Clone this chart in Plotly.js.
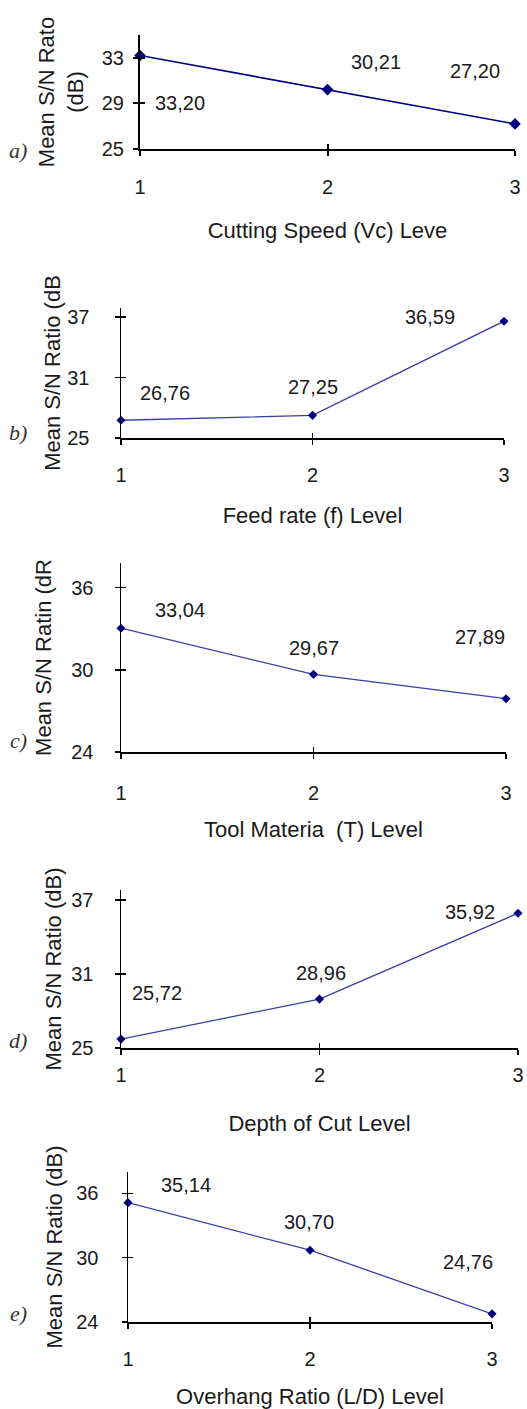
<!DOCTYPE html>
<html><head><meta charset="utf-8">
<script src="https://cdn.plot.ly/plotly-3.0.1.min.js"></script>
<style>html,body{margin:0;padding:0;background:#fff;} #chart{width:527px;height:1409px;}</style>
</head><body><div id="chart"></div>
<script>
// ---- data ----
const levels = [1, 2, 3];
const snCuttingSpeed = [33.20, 30.21, 27.20];
const snFeedRate = [26.76, 27.25, 36.59];
const snToolMaterial = [33.04, 29.67, 27.89];
const snDepthOfCut = [25.72, 28.96, 35.92];
const snOverhang = [35.14, 30.70, 24.76];
const panelTags = ['a)', 'b)', 'c)', 'd)', 'e)'];
const xTitles = ['Cutting Speed (Vc) Leve', 'Feed rate (f) Level', 'Tool Materia  (T) Level', 'Depth of Cut Level', 'Overhang Ratio (L/D) Level'];
const yTitles = ['Mean S/N Rato<br>(dB)', 'Mean S/N Ratio (dB', 'Mean S/N Ratin (dR', 'Mean S/N Ratio (dB)', 'Mean S/N Ratio (dB)'];
const yTicksA = [25, 29, 33];
const yTicksB = [25, 31, 37];
const yTicksC = [24, 30, 36];
const yTicksD = [25, 31, 37];
const yTicksE = [24, 30, 36];
const series = [snCuttingSpeed, snFeedRate, snToolMaterial, snDepthOfCut, snOverhang];
const yTicks = [yTicksA, yTicksB, yTicksC, yTicksD, yTicksE];

// ---- layout / style (pixel boxes of each panel) ----
const W = 527, H = 1409;
const boxes = [
  {x0:140, x1:515, y0:35,   y1:149,  yr:[25,35],   line:'#000080', lw:1.6, ms:9, axw:2,   ylab:5,  ytitle:12, xlab:14, xtitle:26, tag:150},
  {x0:121, x1:504, y0:308,  y1:438,  yr:[25,37.9], line:'#3c3ca8', lw:1.3, ms:7, axw:1.5, ylab:21, ytitle:0,  xlab:13, xtitle:23, tag:432},
  {x0:121, x1:506, y0:563,  y1:752,  yr:[24,37.8], line:'#3c3ca8', lw:1.3, ms:7, axw:1.5, ylab:17, ytitle:13, xlab:17, xtitle:19, tag:740},
  {x0:121, x1:518, y0:890,  y1:1048, yr:[25,37.8], line:'#3c3ca8', lw:1.3, ms:7, axw:1.5, ylab:17, ytitle:3,  xlab:3,  xtitle:31, tag:1040},
  {x0:128, x1:492, y0:1172, y1:1322, yr:[24,38],   line:'#3c3ca8', lw:1.3, ms:7, axw:1.5, ylab:19, ytitle:7,  xlab:13, xtitle:20, tag:1313}
];
const labelShifts = [
  [[40,-47],[48,28],[-40,53]],
  [[44,27],[0,28],[-74,4]],
  [[59,18],[0,26],[-26,62]],
  [[36,46],[1,26],[-48,1]],
  [[58,18],[-1,28],[-24,52]]
];

const FONT = 'Liberation Sans, Arial, sans-serif';
const TXT = '#1a1a1a';
const fmt = v => v.toFixed(2).replace('.', ',');
const axName = (k, idx) => k + 'axis' + (idx === 1 ? '' : idx);
const axRef = (k, idx) => k + (idx === 1 ? '' : idx);

const traces = [];
const layout = {
  width: W, height: H,
  margin: {l:0, r:0, t:0, b:0},
  paper_bgcolor: '#fff', plot_bgcolor: 'rgba(0,0,0,0)',
  showlegend: false,
  font: {family: FONT, color: TXT},
  annotations: []
};

series.forEach((vals, i) => {
  const b = boxes[i];
  const n = 2*i + 1, m = 2*i + 2;
  const xd = [b.x0/W, b.x1/W];
  const yd = [1 - b.y1/H, 1 - b.y0/H];
  layout[axName('x', n)] = {
    domain: xd, range: [1, 3], anchor: axRef('y', n),
    tickvals: levels, ticktext: levels.map(String),
    ticks: 'outside', ticklen: 5, tickwidth: b.axw, tickcolor: '#000',
    showline: true, linecolor: '#000', linewidth: b.axw,
    showgrid: false, zeroline: false, fixedrange: true,
    tickfont: {family: FONT, size: 20, color: TXT},
    ticklabelstandoff: b.xlab,
    title: {text: xTitles[i], font: {family: FONT, size: 22, color: TXT}, standoff: b.xtitle}
  };
  layout[axName('y', n)] = {
    domain: yd, range: b.yr, anchor: axRef('x', n),
    tickvals: yTicks[i],
    ticks: 'outside', ticklen: 5, tickwidth: b.axw, tickcolor: '#000',
    showline: true, linecolor: '#000', linewidth: b.axw,
    showgrid: false, zeroline: false, fixedrange: true,
    tickfont: {family: FONT, size: 20, color: TXT},
    ticklabelstandoff: b.ylab,
    title: {text: yTitles[i], font: {family: FONT, size: 22, color: TXT}, standoff: b.ytitle}
  };
  // overlay axes give the inner half of the crossing tick marks
  layout[axName('x', m)] = {
    overlaying: axRef('x', n), anchor: axRef('y', m), range: [1, 3], tickvals: levels,
    ticks: 'inside', ticklen: 5, tickwidth: b.axw, tickcolor: '#000',
    showticklabels: false, showline: false, showgrid: false, zeroline: false, fixedrange: true
  };
  layout[axName('y', m)] = {
    overlaying: axRef('y', n), anchor: axRef('x', m), range: b.yr, tickvals: yTicks[i],
    ticks: 'inside', ticklen: 5, tickwidth: b.axw, tickcolor: '#000',
    showticklabels: false, showline: false, showgrid: false, zeroline: false, fixedrange: true
  };
  traces.push({
    type: 'scatter', x: [], y: [], xaxis: axRef('x', m), yaxis: axRef('y', m),
    hoverinfo: 'skip', showlegend: false
  });
  traces.push({
    type: 'scatter', mode: 'lines+markers', x: levels, y: vals,
    xaxis: axRef('x', n), yaxis: axRef('y', n), cliponaxis: false,
    line: {color: b.line, width: b.lw},
    marker: {symbol: 'diamond', size: b.ms, color: '#000080'},
    hoverinfo: 'skip'
  });
  vals.forEach((v, j) => {
    layout.annotations.push({
      x: levels[j], y: v, xref: axRef('x', n), yref: axRef('y', n),
      text: fmt(v), showarrow: false, xanchor: 'center', yanchor: 'middle',
      xshift: labelShifts[i][j][0], yshift: labelShifts[i][j][1],
      font: {family: FONT, size: 20, color: TXT}
    });
  });
  layout.annotations.push({
    xref: 'paper', yref: 'paper', x: 18/W, y: 1 - b.tag/H,
    xanchor: 'center', yanchor: 'middle',
    text: '<i>' + panelTags[i] + '</i>', showarrow: false,
    font: {family: 'Liberation Serif, Times New Roman, serif', size: 22, color: '#333'}
  });
});

Plotly.newPlot('chart', traces, layout, {staticPlot: true, displayModeBar: false});
</script>
</body></html>
